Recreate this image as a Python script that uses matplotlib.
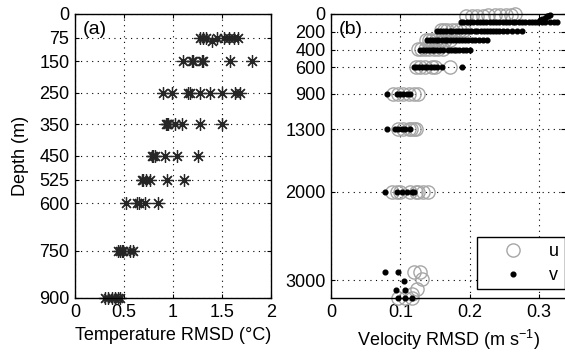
import matplotlib
matplotlib.use("Agg")
import matplotlib.pyplot as plt

plt.rcParams['font.family'] = ['Liberation Sans', 'DejaVu Sans']
plt.rcParams['mathtext.default'] = 'regular'

# (a) temperature RMSD (degC) at each depth (m)
t_depths = [75, 85, 150, 250, 350, 450, 525, 600, 750, 900]
t75 = [1.28, 1.31, 1.34, 1.45, 1.52, 1.57, 1.62, 1.66]
t85 = [1.40]
t150 = [1.10, 1.19, 1.20, 1.30, 1.31, 1.58, 1.81]
t250 = [0.90, 0.99, 1.15, 1.17, 1.28, 1.38, 1.50, 1.63, 1.68]
t350 = [0.93, 0.94, 0.95, 1.02, 1.09, 1.28, 1.50]
t450 = [0.79, 0.80, 0.82, 0.92, 1.04, 1.26]
t525 = [0.68, 0.69, 0.72, 0.77, 0.94, 1.11]
t600 = [0.52, 0.63, 0.65, 0.71, 0.85]
t750 = [0.44, 0.46, 0.48, 0.49, 0.56, 0.59]
t900 = [0.31, 0.34, 0.38, 0.41, 0.44, 0.46]
t_vals = [t75, t85, t150, t250, t350, t450, t525, t600, t750, t900]
t_ticks = [0, 75, 150, 250, 350, 450, 525, 600, 750, 900]

# (b) velocity RMSD (m/s): u (open grey circles), v (black dots)
u_top = [0.195, 0.203, 0.211, 0.219, 0.227, 0.236, 0.244, 0.252, 0.259, 0.265]
u_top_depth = [24, 22, 20, 17, 15, 12, 10, 8, 6, 4]
u_depths = [185, 290, 395, 600, 900, 1300, 2000]
u185 = [0.158, 0.163, 0.168, 0.174, 0.180, 0.186, 0.192]
u290 = [0.137, 0.141, 0.146, 0.152, 0.158, 0.165, 0.172]
u395 = [0.126, 0.130, 0.135, 0.141, 0.148, 0.155, 0.162]
u600 = [0.122, 0.129, 0.136, 0.146, 0.150, 0.172]
u900 = [0.090, 0.097, 0.104, 0.112, 0.119, 0.125]
u1300 = [0.097, 0.104, 0.112, 0.115, 0.120, 0.122]
u2000 = [0.088, 0.095, 0.100, 0.114, 0.122, 0.126, 0.133, 0.140]
u_bands = [u185, u290, u395, u600, u900, u1300, u2000]
u_deep = [0.119, 0.129, 0.131, 0.124, 0.117, 0.097, 0.107, 0.117]
u_deep_depth = [2910, 2910, 2990, 3100, 3150, 3200, 3200, 3200]

v_depths = [88, 195, 295, 400, 600, 900, 1300, 2000]
v88 = [0.187, 0.191, 0.196, 0.201, 0.205, 0.210, 0.215, 0.219, 0.224, 0.229,
       0.233, 0.238, 0.243, 0.248, 0.252, 0.257, 0.262, 0.266, 0.271, 0.276,
       0.280, 0.285, 0.290, 0.294, 0.299, 0.304, 0.309, 0.316, 0.321, 0.326]
v195 = [0.153, 0.157, 0.162, 0.166, 0.171, 0.175, 0.180, 0.184, 0.189, 0.193,
        0.198, 0.202, 0.207, 0.211, 0.216, 0.220, 0.225, 0.229, 0.234, 0.238,
        0.243, 0.248, 0.254, 0.261, 0.268, 0.275]
v295 = [0.139, 0.143, 0.147, 0.151, 0.155, 0.160, 0.164, 0.168, 0.172, 0.176,
        0.181, 0.185, 0.189, 0.193, 0.198, 0.203, 0.208, 0.213, 0.219, 0.225]
v400 = [0.129, 0.133, 0.137, 0.141, 0.145, 0.149, 0.153, 0.157, 0.161,
        0.169, 0.173, 0.177, 0.181, 0.185, 0.190, 0.195, 0.200]
v600 = [0.119, 0.123, 0.127, 0.131, 0.135, 0.139, 0.144, 0.149, 0.153, 0.160, 0.189]
v900 = [0.081, 0.095, 0.100, 0.104, 0.110, 0.114]
v1300 = [0.081, 0.093, 0.097, 0.103, 0.107, 0.114]
v2000 = [0.078, 0.095, 0.103, 0.110, 0.117, 0.119]
v_bands = [v88, v195, v295, v400, v600, v900, v1300, v2000]
v_tail = [0.302, 0.305, 0.308, 0.311, 0.313, 0.316]
v_tail_depth = [70, 55, 40, 28, 18, 10]
v_deep = [0.078, 0.097, 0.105, 0.094, 0.107, 0.097, 0.107, 0.117]
v_deep_depth = [2910, 2910, 3010, 3110, 3110, 3200, 3200, 3200]
vel_ticks = [0, 200, 400, 600, 900, 1300, 2000, 3000]

fig = plt.figure(figsize=(5.65, 3.52), dpi=100)
ax1 = fig.add_axes([75 / 565, 54 / 352, 196 / 565, 284 / 352])
ax2 = fig.add_axes([331 / 565, 54 / 352, 234 / 565, 284 / 352])

grid_style = dict(color='k', linestyle=(0, (1, 4)), linewidth=0.8)
fs = 13

# panel (a)
for d, vals in zip(t_depths, t_vals):
    ax1.plot(vals, [d] * len(vals), linestyle='none', marker=(8, 2, 0),
             markersize=9, markeredgewidth=0.9, color='#262626', clip_on=False)
ax1.set_xlim(0, 2)
ax1.set_ylim(900, 0)
ax1.set_yticks(t_ticks)
ax1.set_xticks([0, 0.5, 1, 1.5, 2])
ax1.set_xticklabels(['0', '0.5', '1', '1.5', '2'])
ax1.grid(True, **grid_style)
ax1.set_ylabel('Depth (m)', fontsize=fs, labelpad=7)
ax1.set_xlabel('Temperature RMSD (°C)', fontsize=fs, labelpad=5)
ax1.text(0.04, 0.975, '(a)', transform=ax1.transAxes, fontsize=14,
         va='top', ha='left')

# panel (b)
grey = '#a6a6a6'
circ = dict(linestyle='none', marker='o', markersize=9.5, markerfacecolor='none',
            markeredgecolor=grey, markeredgewidth=1.0, clip_on=False)
dot = dict(linestyle='none', marker='o', markersize=3.4, color='k', clip_on=False)

ax2.plot(u_top, u_top_depth, **circ)
for d, vals in zip(u_depths, u_bands):
    ax2.plot(vals, [d] * len(vals), **circ)
ax2.plot(u_deep, u_deep_depth, label='u', **circ)

for d, vals in zip(v_depths, v_bands):
    ax2.plot(vals, [d] * len(vals), **dot)
ax2.plot(v_tail, v_tail_depth, **dot)
ax2.plot(v_deep, v_deep_depth, label='v', **dot)

ax2.set_xlim(0, 0.3375)
ax2.set_ylim(3200, 0)
ax2.set_yticks(vel_ticks)
ax2.set_xticks([0, 0.1, 0.2, 0.3])
ax2.set_xticklabels(['0', '0.1', '0.2', '0.3'])
ax2.grid(True, **grid_style)
ax2.spines['right'].set_visible(False)
ax2.set_xlabel('Velocity RMSD (m s$^{-1}$)', fontsize=fs, labelpad=5)
ax2.text(0.035, 0.975, '(b)', transform=ax2.transAxes, fontsize=14,
         va='top', ha='left')

leg = ax2.legend(loc='lower left', bbox_to_anchor=(0.624, 0.03), fontsize=fs,
                 frameon=True, fancybox=False, numpoints=1, handlelength=3.4,
                 handletextpad=0.3, labelspacing=0.4, borderpad=0.3,
                 borderaxespad=0)
leg.get_frame().set_edgecolor('k')
leg.get_frame().set_linewidth(1.0)
leg.get_frame().set_alpha(1)

for ax in (ax1, ax2):
    ax.tick_params(direction='in', length=3, width=0.8, labelsize=fs, pad=4,
                   top=True, right=True)
    for s in ax.spines.values():
        s.set_linewidth(1.0)

fig.savefig('out.png', dpi=100)
